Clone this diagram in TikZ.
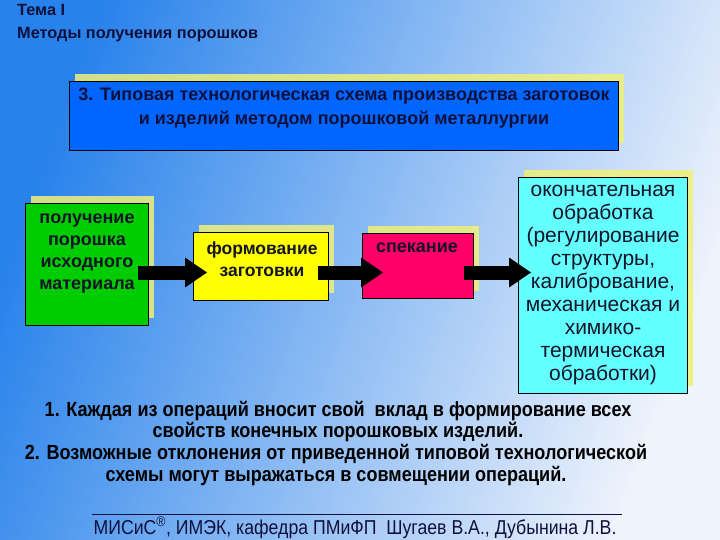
\documentclass[tikz,border=0pt]{standalone}
\usepackage{fontspec}
\setmainfont{Liberation Sans}
\newfontfamily\narrowfont[FakeStretch=0.88]{Liberation Sans}
\usetikzlibrary{arrows.meta,shadows}
\definecolor{bgA}{RGB}{40,130,235}
\definecolor{bgM}{RGB}{150,195,245}
\definecolor{bgB}{RGB}{240,244,252}
\definecolor{navy}{RGB}{16,16,60}
\definecolor{txtdark}{RGB}{20,20,40}
\definecolor{titleblue}{RGB}{0,102,255}
\definecolor{boxgreen}{RGB}{0,204,0}
\definecolor{boxyellow}{RGB}{255,255,0}
\definecolor{boxred}{RGB}{255,0,102}
\definecolor{boxcyan}{RGB}{100,255,255}
\definecolor{shadowyellow}{RGB}{240,240,120}
\tikzset{
  box/.style={draw=black, line width=0.8pt, inner sep=0pt,
    general shadow={fill=shadowyellow, draw=none, opacity=0.85, shadow xshift=6pt, shadow yshift=7pt}},
  boxtext/.style={align=center, inner sep=0pt, text=txtdark},
  blockarrow/.style={line width=14pt, black, -{Triangle[width=30pt,length=22pt,line width=0pt]}},
  notetext/.style={align=center, inner sep=0pt, text=black, font=\narrowfont\bfseries\fontsize{20.5}{21.5}\selectfont},
}
\begin{document}
\begin{tikzpicture}[x=1pt,y=-1pt]
\useasboundingbox (0,0) rectangle (720,540);
\shade[left color=bgA, middle color=bgM, right color=bgB, shading angle=70] (0,0) rectangle (720,540);

% header
\node[anchor=west, inner sep=0pt, text=navy, font=\bfseries\fontsize{16.3}{23}\selectfont, align=left] (hdr) at (17,23) {Тема I\\Методы получения порошков};

% title box
\node[box, fill=titleblue, minimum width=549pt, minimum height=69pt, anchor=north west] (title) at (69,81) {};
\node[boxtext, font=\bfseries\fontsize{18}{24}\selectfont, text=navy] (ttxt) at (344,108.5) {3. Типовая технологическая схема производства заготовок\\и изделий методом порошковой металлургии};

% process boxes
\node[box, fill=boxgreen, minimum width=123pt, minimum height=122pt, anchor=north west] (g) at (25,203) {};
\node[boxtext, font=\bfseries\fontsize{18}{22}\selectfont] (gt) at (87,253.5) {получение\\порошка\\исходного\\материала};

\node[box, fill=boxyellow, minimum width=135pt, minimum height=68pt, anchor=north west] (y) at (193,232) {};
\node[boxtext, font=\bfseries\fontsize{17.5}{22}\selectfont] (yt) at (262,259) {формование\\заготовки};

\node[box, fill=boxred, minimum width=111pt, minimum height=65pt, anchor=north west] (r) at (362,233) {};
\node[boxtext, font=\bfseries\fontsize{18}{22}\selectfont] (rt) at (417,248) {спекание};

\node[box, fill=boxcyan, minimum width=169pt, minimum height=216pt, anchor=north west] (c) at (518,177) {};
\node[boxtext, font=\fontsize{21}{23.1}\selectfont] (ct) at (603,285) {окончательная\\обработка\\(регулирование\\структуры,\\калибрование,\\механическая и\\химико-\\термическая\\обработки)};

% arrows
\coordinate (ax) at (0,272.5);
\draw[blockarrow, shorten <=-11pt, shorten >=-14pt] (g.east |- ax) -- (y.west |- ax);
\draw[blockarrow, shorten <=-11pt, shorten >=-21pt] (y.east |- ax) -- (r.west |- ax);
\draw[blockarrow, shorten <=-10pt, shorten >=-13pt] (r.east |- ax) -- (c.west |- ax);

% notes
\node[notetext] (n1) at (338,421.5) {1. Каждая из операций вносит свой \ вклад в формирование всех\\свойств конечных порошковых изделий.};
\node[notetext] (n2) at (336,465) {2. Возможные отклонения от приведенной типовой технологической\\схемы могут выражаться в совмещении операций.};

% footer
\coordinate (fl) at (92,514);
\coordinate (fr) at (622,514);
\draw[navy, line width=0.6pt] (fl) -- (fr);
\node[inner sep=0pt, text=navy, font=\narrowfont\fontsize{20.1}{22}\selectfont] (ft) at (355,527.5) {МИСиС\textsuperscript{®}, ИМЭК, кафедра ПМиФП \ Шугаев В.А., Дубынина Л.В.};
\end{tikzpicture}
\end{document}
